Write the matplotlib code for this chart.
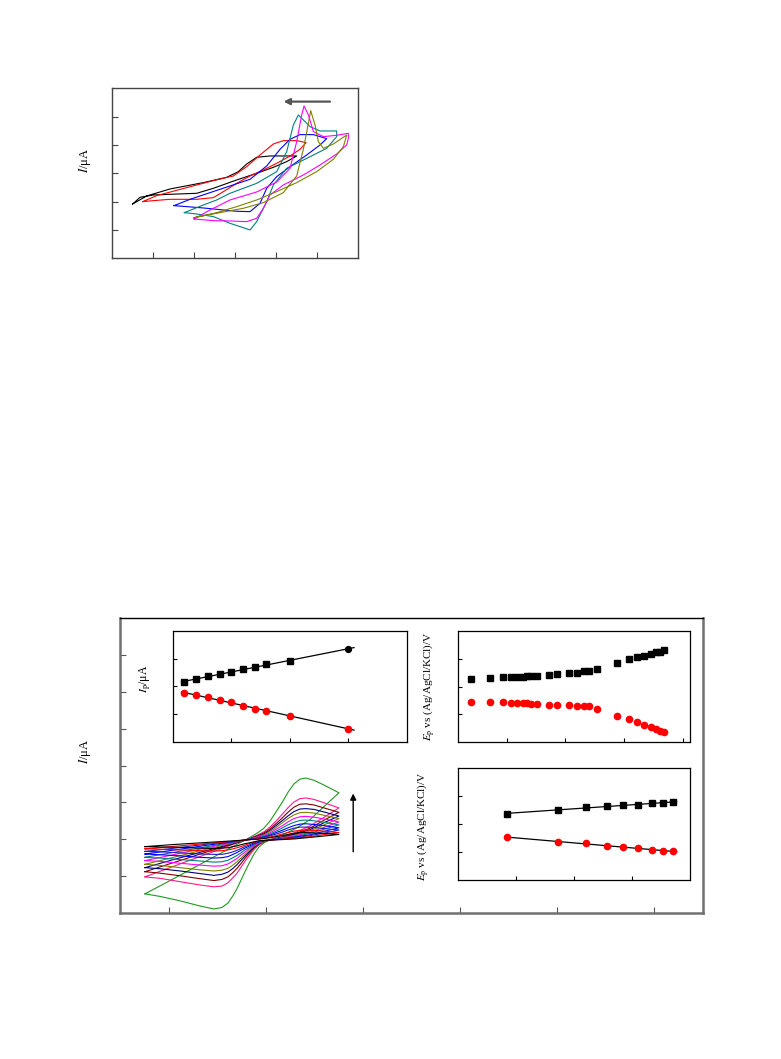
import matplotlib
matplotlib.use("Agg")
import matplotlib.pyplot as plt
import numpy as np

plt.rcParams['font.family'] = ['Liberation Serif', 'DejaVu Serif']
plt.rcParams['mathtext.fontset'] = 'stix'

# ---------------- top panel: CV curves (closed loops) ----------------
top_colors = ['#000000', '#FF0000', '#0000FF', '#008080', '#FF00FF', '#808000']
top_E_black = [0.511, 0.852, 1.419, 2.230, 2.798, 3.082, 3.285, 3.528, 3.852, 4.501, 4.258, 3.934, 3.528, 3.041, 2.474, 2.068, 1.419, 1.014, 0.689, 0.511]
top_I_black = [1.918, 2.20, 2.447, 2.671, 2.859, 3.059, 3.329, 3.565, 3.612, 3.612, 3.412, 3.212, 3.0, 2.765, 2.471, 2.294, 2.259, 2.235, 2.153, 1.918]
top_E_red = [0.754, 1.095, 1.825, 2.474, 2.960, 3.285, 3.609, 3.934, 4.177, 4.501, 4.728, 4.582, 4.339, 4.015, 3.690, 3.366, 3.041, 2.717, 2.474, 2.068, 1.419, 1.014, 0.754]
top_I_red = [2.0, 2.212, 2.494, 2.741, 2.906, 3.235, 3.647, 4.035, 4.153, 4.153, 4.082, 3.847, 3.612, 3.353, 3.118, 2.906, 2.647, 2.353, 2.141, 2.082, 2.082, 2.035, 2.0]
top_E_blue = [1.517, 1.906, 2.393, 2.879, 3.366, 3.771, 4.096, 4.339, 4.582, 4.907, 5.231, 5.069, 4.745, 4.339, 4.015, 3.771, 3.609, 3.366, 3.041, 2.636, 2.230, 1.825, 1.517]
top_I_blue = [1.859, 2.082, 2.318, 2.553, 2.788, 3.259, 3.847, 4.2, 4.365, 4.365, 4.224, 4.0, 3.647, 3.235, 2.882, 2.471, 1.941, 1.647, 1.659, 1.718, 1.776, 1.824, 1.859]
top_E_teal = [1.768, 2.230, 2.555, 2.879, 3.528, 4.015, 4.258, 4.420, 4.542, 4.826, 5.069, 5.474, 5.474, 5.231, 4.745, 4.258, 3.934, 3.771, 3.528, 3.366, 3.122, 2.879, 2.474, 2.068, 1.768]
top_I_teal = [1.612, 1.882, 2.059, 2.294, 2.647, 3.059, 3.765, 4.706, 5.059, 4.647, 4.494, 4.494, 4.294, 3.882, 3.529, 3.176, 2.588, 2.0, 1.294, 1.0, 1.118, 1.235, 1.471, 1.565, 1.612]
top_E_magenta = [2.003, 2.393, 2.879, 3.528, 4.015, 4.339, 4.501, 4.623, 4.680, 4.786, 4.907, 5.150, 5.474, 5.758, 5.758, 5.718, 5.474, 5.069, 4.663, 4.177, 3.852, 3.690, 3.528, 3.285, 2.879, 2.474, 2.003]
top_I_magenta = [1.388, 1.706, 2.059, 2.341, 2.694, 3.176, 4.118, 5.059, 5.376, 5.059, 4.471, 4.294, 4.341, 4.412, 4.235, 4.0, 3.682, 3.294, 2.941, 2.588, 2.235, 1.765, 1.412, 1.294, 1.318, 1.329, 1.388]
top_E_olive = [2.003, 2.636, 3.204, 3.690, 4.177, 4.501, 4.663, 4.786, 4.842, 4.947, 5.028, 5.150, 5.393, 5.718, 5.637, 5.393, 4.988, 4.501, 4.015, 3.528, 3.041, 2.555, 2.230, 2.003]
top_I_olive = [1.435, 1.612, 1.765, 1.965, 2.318, 2.906, 3.847, 4.765, 5.212, 4.706, 4.118, 3.882, 4.035, 4.353, 3.941, 3.494, 3.059, 2.671, 2.353, 2.059, 1.824, 1.612, 1.506, 1.435]

# ---------------- bottom main panel: CV family (forward and reverse scans) ----------------
cv_E_fwd = [0.257, 0.566, 0.874, 1.183, 1.337, 1.420, 1.481, 1.543, 1.605, 1.667,
            1.728, 1.790, 1.852, 1.914, 1.996, 2.099, 2.253]
cv_E_rev = [2.253, 2.109, 1.955, 1.800, 1.667, 1.564, 1.492, 1.430, 1.379, 1.327,
            1.286, 1.245, 1.204, 1.163, 1.111, 1.049, 0.967, 0.823, 0.617, 0.412, 0.257]
cv_colors = ['#1E9A1E', '#FF1A8C', '#800000', '#000080', '#808000', '#FF00FF',
             '#008080', '#0000FF', '#2020B0', '#FF0000', '#000000']
cv_I_fwd = [
    [0.52, 0.95, 1.39, 1.83, 2.05, 2.18, 2.30, 2.49, 2.74, 2.99, 3.27, 3.50, 3.63, 3.66, 3.60, 3.47, 3.26],
    [0.98, 1.28, 1.58, 1.88, 2.02, 2.12, 2.20, 2.33, 2.49, 2.67, 2.85, 3.01, 3.10, 3.12, 3.08, 2.99, 2.85],
    [1.12, 1.38, 1.64, 1.89, 2.02, 2.10, 2.17, 2.28, 2.42, 2.57, 2.73, 2.87, 2.95, 2.96, 2.93, 2.85, 2.73],
    [1.23, 1.46, 1.68, 1.90, 2.01, 2.08, 2.14, 2.24, 2.37, 2.50, 2.63, 2.75, 2.82, 2.83, 2.81, 2.74, 2.63],
    [1.32, 1.52, 1.72, 1.91, 2.01, 2.07, 2.12, 2.21, 2.32, 2.44, 2.56, 2.66, 2.72, 2.73, 2.71, 2.65, 2.56],
    [1.42, 1.59, 1.76, 1.92, 2.00, 2.06, 2.10, 2.17, 2.27, 2.36, 2.47, 2.56, 2.61, 2.62, 2.60, 2.55, 2.47],
    [1.51, 1.65, 1.79, 1.93, 2.00, 2.04, 2.08, 2.14, 2.22, 2.30, 2.39, 2.46, 2.51, 2.52, 2.50, 2.46, 2.39],
    [1.60, 1.71, 1.83, 1.94, 2.00, 2.03, 2.06, 2.11, 2.18, 2.24, 2.31, 2.37, 2.41, 2.42, 2.40, 2.37, 2.31],
    [1.67, 1.76, 1.86, 1.95, 1.99, 2.02, 2.05, 2.09, 2.14, 2.19, 2.25, 2.30, 2.33, 2.33, 2.32, 2.29, 2.25],
    [1.74, 1.81, 1.88, 1.95, 1.99, 2.01, 2.03, 2.06, 2.10, 2.14, 2.18, 2.22, 2.24, 2.25, 2.24, 2.22, 2.18],
    [1.80, 1.86, 1.91, 1.96, 1.99, 2.00, 2.02, 2.04, 2.07, 2.10, 2.13, 2.16, 2.18, 2.18, 2.17, 2.16, 2.13],
]
cv_I_rev = [
    [3.26, 2.91, 2.53, 2.28, 2.11, 2.01, 1.92, 1.79, 1.60, 1.34, 1.12, 0.89, 0.66, 0.47, 0.27, 0.15, 0.11, 0.19, 0.33, 0.45, 0.52],
    [2.85, 2.61, 2.36, 2.18, 2.07, 2.00, 1.94, 1.85, 1.72, 1.55, 1.40, 1.24, 1.08, 0.96, 0.82, 0.73, 0.71, 0.76, 0.85, 0.94, 0.98],
    [2.73, 2.53, 2.30, 2.15, 2.06, 1.99, 1.95, 1.87, 1.76, 1.61, 1.48, 1.34, 1.21, 1.10, 0.98, 0.91, 0.88, 0.93, 1.01, 1.08, 1.12],
    [2.63, 2.46, 2.26, 2.13, 2.05, 1.99, 1.95, 1.88, 1.79, 1.65, 1.54, 1.43, 1.31, 1.21, 1.11, 1.05, 1.02, 1.07, 1.14, 1.20, 1.23],
    [2.56, 2.40, 2.23, 2.11, 2.04, 1.99, 1.95, 1.89, 1.81, 1.69, 1.59, 1.49, 1.39, 1.30, 1.21, 1.16, 1.14, 1.17, 1.23, 1.29, 1.32],
    [2.47, 2.33, 2.19, 2.09, 2.03, 1.99, 1.96, 1.91, 1.83, 1.74, 1.65, 1.57, 1.48, 1.41, 1.33, 1.28, 1.27, 1.30, 1.35, 1.40, 1.42],
    [2.39, 2.28, 2.16, 2.07, 2.02, 1.99, 1.96, 1.92, 1.86, 1.77, 1.71, 1.63, 1.56, 1.50, 1.43, 1.39, 1.38, 1.41, 1.45, 1.49, 1.51],
    [2.31, 2.22, 2.12, 2.06, 2.01, 1.99, 1.96, 1.93, 1.88, 1.81, 1.76, 1.70, 1.64, 1.59, 1.53, 1.50, 1.49, 1.51, 1.55, 1.58, 1.60],
    [2.25, 2.17, 2.10, 2.04, 2.01, 1.98, 1.97, 1.94, 1.90, 1.84, 1.80, 1.75, 1.70, 1.66, 1.62, 1.59, 1.59, 1.60, 1.63, 1.66, 1.67],
    [2.18, 2.13, 2.07, 2.03, 2.00, 1.98, 1.97, 1.95, 1.92, 1.88, 1.84, 1.80, 1.77, 1.74, 1.71, 1.69, 1.68, 1.69, 1.71, 1.73, 1.74],
    [2.13, 2.09, 2.05, 2.01, 1.99, 1.98, 1.97, 1.96, 1.93, 1.90, 1.88, 1.85, 1.82, 1.80, 1.77, 1.76, 1.75, 1.76, 1.78, 1.79, 1.80],
]

# ---------------- inset 1: Ip ----------------
ip_x = [0.2, 0.4, 0.6, 0.8, 1.0, 1.2, 1.4, 1.6, 2.0, 3.0]
ip_ox = [2.15, 2.25, 2.36, 2.44, 2.51, 2.63, 2.70, 2.79, 2.92, 3.33]
ip_red = [1.77, 1.69, 1.60, 1.51, 1.42, 1.30, 1.19, 1.13, 0.94, 0.48]

# ---------------- inset 2: Ep ----------------
ep2_x = [0.39, 0.72, 0.93, 1.07, 1.18, 1.27, 1.34, 1.41, 1.51, 1.72, 1.86, 2.06,
         2.20, 2.31, 2.40, 2.54, 2.88, 3.08, 3.22, 3.33, 3.45, 3.54, 3.61, 3.68]
ep2_ox = [2.28, 2.29, 2.33, 2.34, 2.35, 2.35, 2.37, 2.38, 2.38, 2.43, 2.44, 2.47,
          2.49, 2.54, 2.54, 2.63, 2.84, 2.99, 3.07, 3.08, 3.17, 3.23, 3.25, 3.31]
ep2_red = [1.45, 1.46, 1.43, 1.41, 1.40, 1.40, 1.40, 1.39, 1.37, 1.35, 1.35, 1.34,
           1.31, 1.29, 1.29, 1.21, 0.94, 0.85, 0.72, 0.62, 0.55, 0.48, 0.41, 0.38]

# ---------------- inset 3: Ep (linear region) ----------------
ep3_x = [0.85, 1.72, 2.21, 2.57, 2.84, 3.11, 3.34, 3.53, 3.70]
ep3_ox = [2.38, 2.50, 2.60, 2.65, 2.67, 2.69, 2.74, 2.77, 2.79]
ep3_red = [1.53, 1.37, 1.31, 1.23, 1.19, 1.13, 1.08, 1.04, 1.03]

W, H = 781, 1059
fig = plt.figure(figsize=(W / 100, H / 100), dpi=100)


def rect(l, t, r, b):
    return [l / W, 1 - b / H, (r - l) / W, (b - t) / H]


def style(ax, spine_color='k', lw=0.9, ticklen=3):
    for s in ax.spines.values():
        s.set_color(spine_color)
        s.set_linewidth(lw)
    ax.tick_params(direction='in', length=ticklen, width=0.8,
                   labelleft=False, labelbottom=False, colors=spine_color)


# ---- top panel ----
axt = fig.add_axes(rect(111.7, 88.3, 358.3, 258.3))
top_E = [top_E_black, top_E_red, top_E_blue, top_E_teal, top_E_magenta, top_E_olive]
top_I = [top_I_black, top_I_red, top_I_blue, top_I_teal, top_I_magenta, top_I_olive]
for e, i, c in zip(top_E, top_I, top_colors):
    axt.plot(e, i, color=c, lw=0.8, solid_joinstyle='round')
axt.set_xlim(0, 6)
axt.set_ylim(0, 6)
axt.set_xticks([1, 2, 3, 4, 5])
axt.set_yticks([1, 2, 3, 4, 5])
style(axt, '#444444', 1.0, 4)
axt.annotate('', xy=(4.18, 5.53), xytext=(5.31, 5.53),
             arrowprops=dict(arrowstyle='-|>', color='#555555', lw=1.6,
                             mutation_scale=9, shrinkA=0, shrinkB=0))
axt.text(-0.108, 0.578, '$I$/μA', transform=axt.transAxes, rotation=90,
         ha='center', va='center', fontsize=9)

# ---- main bottom panel ----
axm = fig.add_axes(rect(120, 618, 703, 913))
for k in range(len(cv_colors)):
    e = cv_E_fwd + cv_E_rev[1:]
    i = cv_I_fwd[k] + cv_I_rev[k][1:]
    axm.plot(e, i, color=cv_colors[k], lw=0.8, solid_joinstyle='round')
axm.set_xlim(0, 6)
axm.set_ylim(0, 8)
axm.set_xticks([0.5, 1.5, 2.5, 3.5, 4.5, 5.5])
axm.set_yticks([1, 2, 3, 4, 5, 6, 7])
style(axm, 'k', 1.0, 4)
for side in ['left', 'bottom', 'right']:
    axm.spines[side].set_color('#707070')
    axm.spines[side].set_linewidth(1.8)
axm.tick_params(colors='#555555')
axm.annotate('', xy=(2.40, 3.24), xytext=(2.40, 1.66),
             arrowprops=dict(arrowstyle='-|>', color='k', lw=1.0,
                             mutation_scale=9, shrinkA=0, shrinkB=0))
axm.text(-0.060, 0.547, '$I$/μA', transform=axm.transAxes, rotation=90,
         ha='center', va='center', fontsize=9)

# ---- inset 1 ----
ax1 = fig.add_axes(rect(172.7, 630.7, 406.7, 742.0))
p_ox = np.polyfit(ip_x, ip_ox, 1)
p_red = np.polyfit(ip_x, ip_red, 1)
xl = np.array([0.15, 3.1])
ax1.plot(xl, np.polyval(p_ox, xl), color='k', lw=0.9)
ax1.plot(xl, np.polyval(p_red, xl), color='k', lw=0.9)
ax1.plot(ip_x[:-1], ip_ox[:-1], 's', color='k', ms=4, mec='k')
ax1.plot(ip_x[-1:], ip_ox[-1:], 'o', color='k', ms=4.2, mec='k')
ax1.plot(ip_x, ip_red, 'o', color='#FF0000', ms=4.5, mec='#FF0000')
ax1.set_xlim(0, 4)
ax1.set_ylim(0, 4)
ax1.set_xticks([1, 2, 3])
ax1.set_yticks([1, 2, 3])
style(ax1, 'k', 0.9, 3)
ax1.text(-0.118, 0.566, '$I_\\mathrm{p}$/μA', transform=ax1.transAxes,
         rotation=90, ha='center', va='center', fontsize=8.5)

# ---- inset 2 ----
ax2 = fig.add_axes(rect(457.7, 630.7, 690.0, 742.3))
ax2.plot(ep2_x, ep2_ox, 's', color='k', ms=4, mec='k')
ax2.plot(ep2_x, ep2_red, 'o', color='#FF0000', ms=4.5, mec='#FF0000')
ax2.set_xlim(0.165, 4.12)
ax2.set_ylim(0, 4)
ax2.set_xticks([1, 2, 3, 4])
ax2.set_yticks([1, 2, 3])
style(ax2, 'k', 0.9, 3)
ax2.text(-0.122, 0.5, '$E_\\mathrm{p}$ vs (Ag/AgCl/KCl)/V', transform=ax2.transAxes,
         rotation=90, ha='center', va='center', fontsize=8)

# ---- inset 3 ----
ax3 = fig.add_axes(rect(457.7, 768.3, 690.0, 880.0))
q_ox = np.polyfit(ep3_x, ep3_ox, 1)
q_red = np.polyfit(ep3_x, ep3_red, 1)
xl3 = np.array([0.85, 3.77])
ax3.plot(xl3, np.polyval(q_ox, xl3), color='k', lw=0.9)
ax3.plot(xl3, np.polyval(q_red, xl3), color='k', lw=0.9)
ax3.plot(ep3_x, ep3_ox, 's', color='k', ms=4, mec='k')
ax3.plot(ep3_x, ep3_red, 'o', color='#FF0000', ms=4.5, mec='#FF0000')
ax3.set_xlim(0, 4)
ax3.set_ylim(0, 4)
ax3.set_xticks([1, 2, 3])
ax3.set_yticks([1, 2, 3])
style(ax3, 'k', 0.9, 3)
ax3.text(-0.148, 0.483, '$E_\\mathrm{p}$ vs (Ag/AgCl/KCl)/V', transform=ax3.transAxes,
         rotation=90, ha='center', va='center', fontsize=8)

fig.savefig('out.png', dpi=100, facecolor='white')
